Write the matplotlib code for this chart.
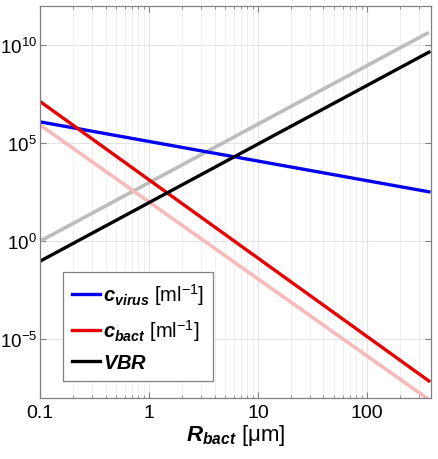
import matplotlib
matplotlib.use("Agg")
import matplotlib.pyplot as plt
import numpy as np
from matplotlib.ticker import FixedLocator, FixedFormatter, LogLocator, NullFormatter

plt.rcParams['font.family'] = ['Liberation Sans', 'DejaVu Sans']
plt.rcParams['mathtext.fontset'] = 'custom'
plt.rcParams['mathtext.rm'] = 'Liberation Sans'
plt.rcParams['mathtext.it'] = 'Liberation Sans:italic'
plt.rcParams['mathtext.bf'] = 'Liberation Sans:bold'
plt.rcParams['mathtext.bfit'] = 'Liberation Sans:bold:italic'

# end points of each (straight on log-log) curve
r_bact = [0.1, 371]
c_virus = [1.23e6, 331]
c_bact = [1.35e7, 7.4e-8]
vbr = [0.095, 4.4e9]
vbr_ref = [1.0, 4.5e10]      # faded grey
c_bact_ref = [8.5e5, 8.3e-9]  # faded pink

x_ticks = [0.1, 1, 10, 100]
x_labels = ["0.1", "1", "10", "100"]
y_ticks = [1e-5, 1e0, 1e5, 1e10]
y_labels = [r'$10^{-5}$', r'$10^{0}$', r'$10^{5}$', r'$10^{10}$']

fig = plt.figure(figsize=(4.38, 4.6), dpi=100)
ax = fig.add_axes([40 / 438, 1 - 399 / 460, 391 / 438, 392 / 460])

ax.plot(r_bact, vbr_ref, color='#bcbcbc', lw=2.6, solid_capstyle='butt')
ax.plot(r_bact, c_bact_ref, color='#f6baba', lw=2.6, solid_capstyle='butt')
lv, = ax.plot(r_bact, c_virus, color='#0000ee', lw=2.4)
lb, = ax.plot(r_bact, c_bact, color='#e60000', lw=2.4)
lr, = ax.plot(r_bact, vbr, color='black', lw=2.4)

ax.set_xscale('log')
ax.set_yscale('log')
ax.set_xlim(0.1, 388)
ax.set_ylim(1e-8, 1e12)

ax.xaxis.set_major_locator(FixedLocator(x_ticks))
ax.xaxis.set_major_formatter(FixedFormatter(x_labels))
ax.xaxis.set_minor_locator(LogLocator(base=10, subs=np.arange(2, 10)))
ax.xaxis.set_minor_formatter(NullFormatter())
ax.yaxis.set_major_locator(FixedLocator(y_ticks))
ax.yaxis.set_major_formatter(FixedFormatter(y_labels))
ax.yaxis.set_minor_locator(FixedLocator([]))

ax.grid(True, which='major', color='#e4e4e4', lw=0.8)
ax.grid(True, which='minor', axis='x', color='#efefef', lw=0.7)
ax.set_axisbelow(True)

ax.tick_params(which='both', direction='in', top=True, right=True, colors='#808080',
               labelcolor='black')
ax.tick_params(axis='x', labelsize=14, pad=4)
ax.tick_params(axis='y', labelsize=13.5, pad=2)
ax.tick_params(which='major', length=4)
ax.tick_params(which='minor', length=2.5)
for s in ax.spines.values():
    s.set_color('#808080')
    s.set_linewidth(0.9)

ax.set_xlabel(r'$\mathbfit{R}_{\mathbfit{bact}}$ [μm]', fontsize=16, labelpad=1)

leg = ax.legend([lv, lb, lr],
                [r'$\mathbfit{c}_{\mathbfit{virus}}$ [ml$^{-1}$]',
                 r'$\mathbfit{c}_{\mathbfit{bact}}$ [ml$^{-1}$]',
                 r'$\mathbfit{VBR}$'],
                loc='lower left', bbox_to_anchor=(0.059, 0.043), borderaxespad=0,
                fontsize=14.5, handlelength=1.4, handletextpad=0.15,
                fancybox=False, framealpha=1, edgecolor='#808080',
                labelspacing=0.5, borderpad=0.45)
leg.get_frame().set_linewidth(0.9)

fig.savefig('out.png', dpi=100)
